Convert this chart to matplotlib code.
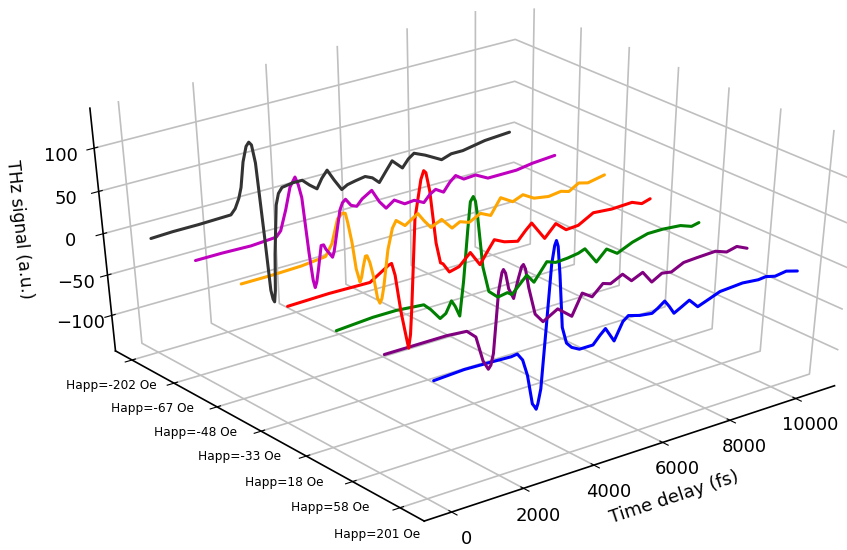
import matplotlib
matplotlib.use("Agg")
import matplotlib.pyplot as plt
from mpl_toolkits.mplot3d import Axes3D  # noqa

t_black = [80,680,1400,2310,2440,2560,2640,2740,2850,2930,3000,3080,3210,3300,3350,3390,3430,3480,3590,3670,3780,4090,4360,4560,4770,4920,5080,5270,5480,5650,5880,6170,6380,6580,6790,6970,7120,7270,7450,7620,7950,8440,8730,9080,9750,10500]
z_black = [-5,-4,-4,-3,3,14,26,55,72,76,72,50,-40,-108,-120,-124,-110,-65,-6,7,13,15,15,7,0,11,19,5,-9,-5,-3,-1,-5,-13,-1,9,3,-3,6,11,5,-6,-2,-2,3,5]
t_magenta = [110,840,1640,2350,2480,2650,2800,2950,3030,3110,3240,3320,3370,3420,3480,3590,3660,3720,3900,3950,4000,4160,4240,4330,4480,4640,4800,5080,5290,5480,5720,6020,6300,6580,6760,6930,7160,7350,7520,7760,8110,8480,8830,9340,9820,10500]
z_magenta = [-5,-5,-6,-4,2,25,50,60,50,34,-34,-68,-78,-72,-58,-29,-29,-35,-47,-41,-30,7,15,18,9,6,13,20,4,-6,1,-7,-6,-12,-4,0,-6,4,10,3,4,-4,-4,-4,-1,1]
t_orange = [140,1000,1800,2470,2660,2840,2980,3060,3120,3220,3310,3405,3455,3510,3580,3625,3700,3790,3890,3955,4015,4075,4220,4360,4470,4720,5090,5270,5460,5770,6070,6300,6570,6900,7200,7490,7850,8150,8480,8920,9290,9530,9820,10100,10600]
z_orange = [-6,-6,-5,-2,11,38,43,42,30,5,-27,-44,-39,-27,-15,-15,-24,-42,-70,-77,-72,-59,-15,9,17,8,18,7,-3,3,-11,-6,-10,-3,-9,9,0,5,-3,-6,-4,-7,0,-3,1]
t_red = [160,1290,2420,2650,2950,3030,3120,3260,3400,3460,3520,3570,3700,3880,3960,4020,4120,4280,4400,4470,4650,4930,5250,5530,5720,5940,6230,6620,6840,7020,7410,7730,8040,8400,8840,9390,10000,10300,10550]
z_red = [-5,-4,-5,1,9,10,-5,-50,-84,-98,-82,-50,54,97,106,103,81,19,-6,-8,-20,-17,-4,-22,-10,3,-3,-7,3,10,-13,1,-10,-9,1,-1,0,-5,-2]
t_green = [210,1200,1840,2600,2790,3050,3210,3370,3475,3600,3710,3830,3900,3980,4040,4100,4250,4420,4680,4950,5080,5500,5710,6070,6330,6670,6980,7170,7520,7810,8130,8570,9020,9470,10000,10340,10560]
z_green = [-6,-3,-3,-6,-14,-28,-24,-11,-19,-32,8,67,97,102,96,78,18,-13,-23,-21,-25,-7,-18,2,-2,-1,1,4,-16,-4,-13,-5,0,0,-2,-7,-5]
t_purple = [210,1180,1900,2450,2700,2900,3050,3120,3190,3320,3410,3450,3510,3600,3740,3860,3950,4000,4060,4160,4350,4580,4990,5400,5680,5970,6270,6490,6830,7100,7420,7700,7990,8270,8620,9000,9560,9900,10200,10520]
z_purple = [-5,-5,-5,-7,-17,-48,-60,-56,-43,28,49,52,47,28,15,36,49,51,45,22,-11,-23,-13,-27,-3,-11,1,-2,5,-6,0,-15,-8,-10,-3,-2,-1,-6,-3,-9]
t_blue = [210,1030,1770,2300,2470,2620,2760,2910,2970,3020,3065,3140,3250,3365,3435,3480,3530,3600,3700,3830,3980,4200,4580,4770,4920,5050,5180,5410,5560,5890,6240,6400,6590,6730,6880,7100,7310,7430,7570,7890,8200,8860,9330,9550,9830,10160,10500]
z_blue = [-6,-4,-5,-6,-5,-14,-34,-70,-74,-78,-72,-55,13,86,106,111,104,71,10,-10,-17,-22,-22,-13,-7,-16,-25,-5,0,-4,-6,-2,4,-4,-14,-9,-4,-9,-15,-10,-5,-3,-5,-4,-7,-5,-9]

series_labels = ["Happ=201 Oe", "Happ=58 Oe", "Happ=18 Oe", "Happ=-33 Oe", "Happ=-48 Oe", "Happ=-67 Oe", "Happ=-202 Oe"]
series = [(t_blue, z_blue, "b"), (t_purple, z_purple, "purple"), (t_green, z_green, "g"),
          (t_red, z_red, "r"), (t_orange, z_orange, "orange"), (t_magenta, z_magenta, "m"),
          (t_black, z_black, "#333333")]
x_ticks = [0, 2000, 4000, 6000, 8000, 10000]
z_ticks = [-100, -50, 0, 50, 100]

fig = plt.figure(figsize=(8.47, 5.5), dpi=100)
ax = fig.add_axes([0.1077, 0.108, 0.875, 0.85], projection="3d")
ax.view_init(elev=36, azim=-128)
for i, (t, z, c) in enumerate(series):
    ax.plot(t, [i] * len(t), z, color=c, lw=2.2, solid_capstyle="round", solid_joinstyle="round")

ax.set_xlim(-750, 11200)
ax.set_ylim(-0.5, 6.4)
ax.set_zlim(-145, 145)
ax.set_xticks(x_ticks)
ax.set_yticks(range(7))
ax.set_yticklabels(series_labels, fontsize=8.7)
ax.set_zticks(z_ticks)
ax.tick_params(axis="x", labelsize=13, pad=2)
ax.tick_params(axis="z", labelsize=13, pad=2)
ax.tick_params(axis="y", pad=4)
ax.set_xlabel("Time delay (fs)", fontsize=13, labelpad=5)
ax.set_zlabel("THz signal (a.u.)", fontsize=12.3, labelpad=5)
for a in (ax.xaxis, ax.yaxis, ax.zaxis):
    a.set_pane_color((1, 1, 1, 1))
    a.pane.set_edgecolor("white")
    a._axinfo["grid"]["color"] = (0.75, 0.75, 0.75, 1)
    a._axinfo["grid"]["linewidth"] = 1.2
    a.line.set_color("black")
    a.line.set_linewidth(1.2)
ax.set_box_aspect((1, 1, 0.9), zoom=1.164)
ax.apply_aspect = lambda position=None: None
ax.patch.set_visible(False)
fig.savefig("out.png", dpi=100)
